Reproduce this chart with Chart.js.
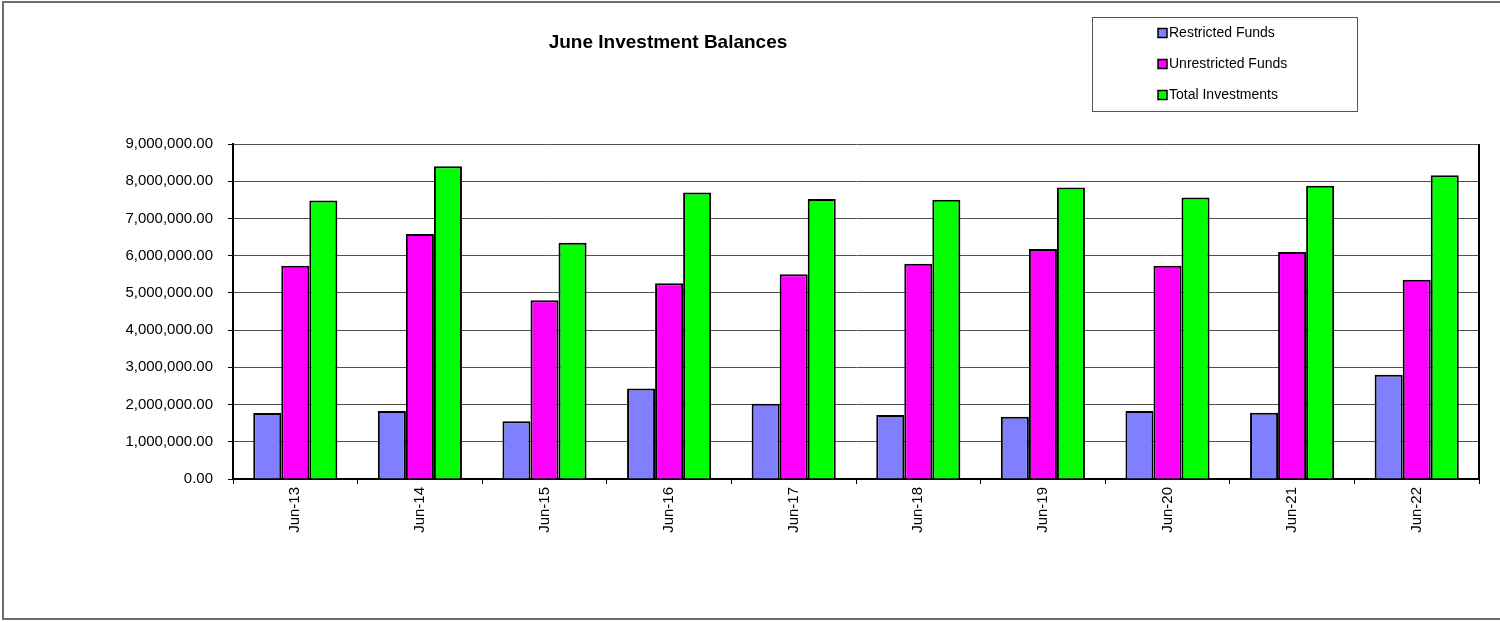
<!DOCTYPE html>
<html>
<head>
<meta charset="utf-8">
<title>June Investment Balances</title>
<script src="https://cdn.jsdelivr.net/npm/chart.js@4"></script>
<style>
  html, body { margin: 0; padding: 0; background: #fff; }
  #wrap { width: 1500px; height: 622px; position: relative; }
</style>
</head>
<body>
<div id="wrap"><canvas id="investChart" width="1500" height="622"></canvas></div>
<script>
// chart data
const months = ['Jun-13', 'Jun-14', 'Jun-15', 'Jun-16', 'Jun-17', 'Jun-18', 'Jun-19', 'Jun-20', 'Jun-21', 'Jun-22'];
const restrictedFunds = [1770000, 1830000, 1550000, 2430000, 2020000, 1720000, 1670000, 1830000, 1780000, 2800000];
const unrestrictedFunds = [5730000, 6580000, 4800000, 5260000, 5500000, 5780000, 6180000, 5730000, 6100000, 5350000];
const totalInvestments = [7480000, 8400000, 6350000, 7700000, 7520000, 7500000, 7830000, 7560000, 7880000, 8160000];
const yTicks = [0, 1000000, 2000000, 3000000, 4000000, 5000000, 6000000, 7000000, 8000000, 9000000];

const fontFamily = "'Liberation Sans', Arial, sans-serif";

// frame round the whole picture, title, legend box and right edge of plot
const decorPlugin = {
    id: 'decor',
    afterDraw(chart) {
        const ctx = chart.ctx;
        const area = chart.chartArea;
        ctx.save();

        // outer frame
        ctx.strokeStyle = '#6e6e6e';
        ctx.lineWidth = 2;
        ctx.beginPath();
        ctx.moveTo(1502, 2);
        ctx.lineTo(3, 2);
        ctx.lineTo(3, 619);
        ctx.lineTo(1502, 619);
        ctx.stroke();

        // right edge of plot
        ctx.strokeStyle = '#000';
        ctx.lineWidth = 2;
        ctx.beginPath();
        ctx.moveTo(area.right, area.top);
        ctx.lineTo(area.right, area.bottom);
        ctx.stroke();

        // title
        ctx.fillStyle = '#000';
        ctx.font = 'bold 19px ' + fontFamily;
        ctx.textAlign = 'center';
        ctx.textBaseline = 'middle';
        ctx.fillText('June Investment Balances', 668, 43);

        // legend box
        ctx.strokeStyle = '#555';
        ctx.lineWidth = 1;
        ctx.strokeRect(1092.5, 17.5, 265, 94);
        ctx.font = '14px ' + fontFamily;
        ctx.textAlign = 'left';
        const rows = [33, 64, 95];
        chart.data.datasets.forEach((ds, i) => {
            const y = rows[i];
            ctx.fillStyle = ds.backgroundColor;
            ctx.fillRect(1158, y - 4.5, 9, 9);
            ctx.strokeStyle = '#000';
            ctx.lineWidth = 1.5;
            ctx.strokeRect(1158, y - 4.5, 9, 9);
            ctx.fillStyle = '#000';
            ctx.fillText(ds.label, 1169, y);
        });
        ctx.restore();
    }
};

const ctx = document.getElementById('investChart').getContext('2d');
const chart = new Chart(ctx, {
    type: 'bar',
    data: {
        labels: months,
        datasets: [
            {
                label: 'Restricted Funds',
                data: restrictedFunds,
                backgroundColor: '#8080FF',
                borderColor: '#000',
                borderWidth: 2
            },
            {
                label: 'Unrestricted Funds',
                data: unrestrictedFunds,
                backgroundColor: '#FF00FF',
                borderColor: '#000',
                borderWidth: 2
            },
            {
                label: 'Total Investments',
                data: totalInvestments,
                backgroundColor: '#00FF00',
                borderColor: '#000',
                borderWidth: 2
            }
        ]
    },
    options: {
        responsive: false,
        animation: false,
        layout: {
            padding: { top: 144, right: 21, left: 0, bottom: 0 }
        },
        datasets: {
            bar: { categoryPercentage: 0.675, barPercentage: 1.0 }
        },
        plugins: {
            legend: { display: false },
            title: { display: false },
            tooltip: { enabled: false }
        },
        scales: {
            x: {
                offset: true,
                grid: {
                    offset: true,
                    drawOnChartArea: false,
                    tickLength: 5,
                    tickColor: '#000'
                },
                border: { color: '#000', width: 2 },
                ticks: {
                    color: '#000',
                    font: { family: fontFamily, size: 15 },
                    minRotation: 90,
                    maxRotation: 90,
                    padding: 3,
                    autoSkip: false
                },
                afterFit(scale) { scale.height = 143; }
            },
            y: {
                min: 0,
                max: 9000000,
                afterBuildTicks(scale) {
                    scale.ticks = yTicks.map(v => ({ value: v }));
                },
                grid: {
                    color: '#505050',
                    lineWidth: 1,
                    tickLength: 5,
                    tickColor: '#000'
                },
                border: { color: '#000', width: 2 },
                ticks: {
                    color: '#000',
                    font: { family: fontFamily, size: 15 },
                    padding: 15,
                    callback: v => Number(v).toLocaleString('en-US', { minimumFractionDigits: 2, maximumFractionDigits: 2 })
                },
                afterFit(scale) { scale.width = 233; }
            }
        }
    },
    plugins: [decorPlugin]
});
</script>
</body>
</html>
